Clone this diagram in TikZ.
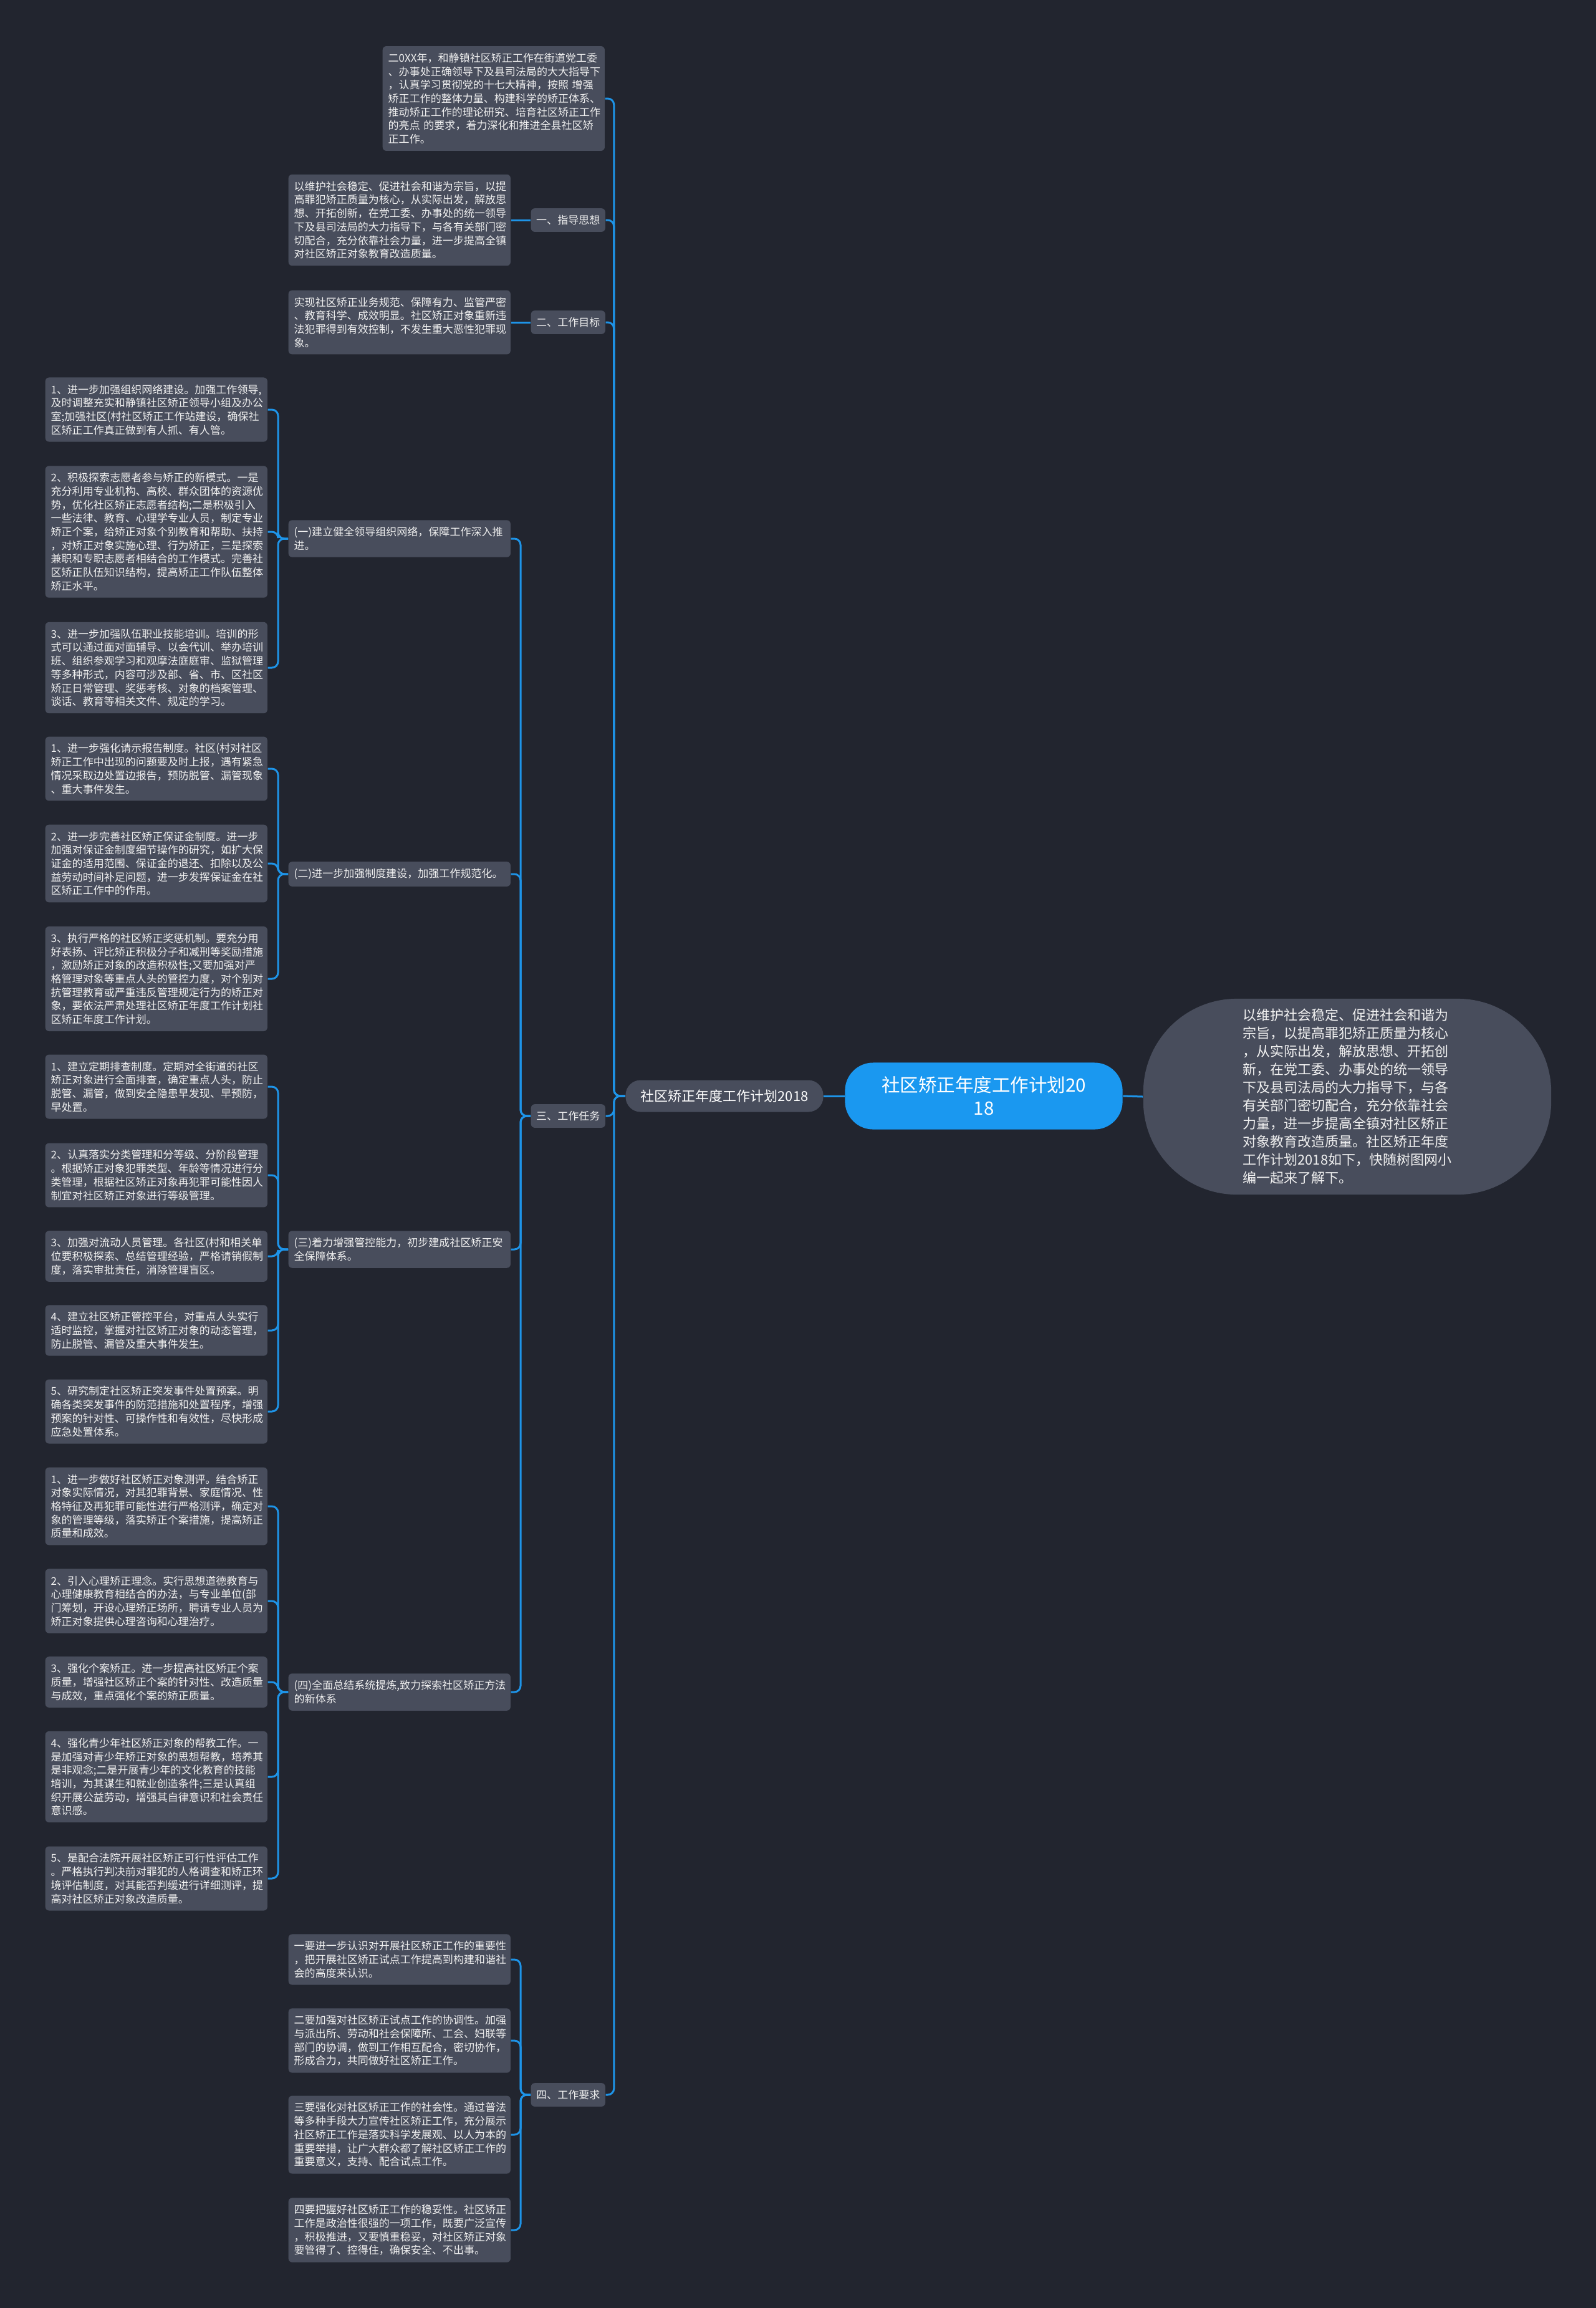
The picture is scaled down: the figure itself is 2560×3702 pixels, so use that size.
\documentclass[tikz,border=0pt]{standalone}
\usepackage{fontspec}
\setmainfont{Noto Sans CJK SC}
\usepackage{xcolor}

\definecolor{bgcol}{RGB}{34,37,47}
\definecolor{boxcol}{RGB}{72,77,92}
\definecolor{linkcol}{RGB}{30,148,232}
\definecolor{titlecol}{RGB}{26,152,240}
\definecolor{txtcol}{RGB}{240,240,240}

\begin{document}
\begin{tikzpicture}[x=0.01cm, y=-0.01cm,
  item/.style={rectangle, rounded corners=0.06cm, fill=boxcol, text=txtcol,
               text width=3.38cm, align=left, inner xsep=0.09cm, inner ysep=0.11cm,
               anchor=west, font=\fontsize{4.84pt}{6.17pt}\selectfont},
  head/.style={rectangle, rounded corners=0.06cm, fill=boxcol, text=txtcol,
               inner xsep=0.085cm, inner ysep=0.11cm, anchor=west,
               font=\fontsize{4.84pt}{6.17pt}\selectfont},
  plan/.style={rectangle, rounded corners=0.24cm, fill=boxcol, text=white,
               inner xsep=0.24cm, minimum height=0.51cm,
               font=\fontsize{6.26pt}{8.25pt}\selectfont},
  title/.style={rectangle, rounded corners=0.45cm, fill=titlecol, text=white,
                minimum width=4.45cm, minimum height=1.07cm, align=center,
                font=\fontsize{8.39pt}{10.53pt}\selectfont},
  summary/.style={rectangle, rounded corners=1.5cm, fill=boxcol, text=txtcol,
                  minimum width=6.54cm, minimum height=3.14cm, align=left,
                  font=\fontsize{6.26pt}{8.25pt}\selectfont},
  link/.style={draw=linkcol, line width=0.03cm, rounded corners=0.1cm},
]
  % background and page size
  \fill[bgcol] (0,0) rectangle (2560,3702);

  % centre: title, root and summary
  \node[title] (title) at (1578,1758) {社区矫正年度工作计划20\\18};
  \node[plan] (root) at (1162,1758) {社区矫正年度工作计划2018};
  \node[summary] (sum) at (2161,1759)
       {以维护社会稳定、促进社会和谐为\\
        宗旨，以提高罪犯矫正质量为核心\\
        ，从实际出发，解放思想、开拓创\\
        新，在党工委、办事处的统一领导\\
        下及县司法局的大力指导下，与各\\
        有关部门密切配合，充分依靠社会\\
        力量，进一步提高全镇对社区矫正\\
        对象教育改造质量。社区矫正年度\\
        工作计划2018如下，快随树图网小\\
        编一起来了解下。};
  \draw[link] (title.west) -- (root.east);
  \draw[link] (title.east) -- (sum.west);

  % first level
  \node[item] (intro) at (613,158)
       {二0XX年，和静镇社区矫正工作在街道党工委\\
        、办事处正确领导下及县司法局的大大指导下\\
        ，认真学习贯彻党的十七大精神，按照 增强\\
        矫正工作的整体力量、构建科学的矫正体系、\\
        推动矫正工作的理论研究、培育社区矫正工作\\
        的亮点 的要求，着力深化和推进全县社区矫\\
        正工作。};
  \node[head] (h1) at (851,353) {一、指导思想};
  \node[head] (h2) at (851,517) {二、工作目标};
  \node[head] (h3) at (851,1790) {三、工作任务};
  \node[head] (h4) at (851,3360) {四、工作要求};

  \draw[link] (root.west) -- ++(-18,0) |- (intro.east);
  \draw[link] (root.west) -- ++(-18,0) |- (h1.east);
  \draw[link] (root.west) -- ++(-18,0) |- (h2.east);
  \draw[link] (root.west) -- ++(-18,0) |- (h3.east);
  \draw[link] (root.west) -- ++(-18,0) |- (h4.east);

  % 一、指导思想 / 二、工作目标
  \node[item] (guide) at (462,353)
       {以维护社会稳定、促进社会和谐为宗旨，以提\\
        高罪犯矫正质量为核心，从实际出发，解放思\\
        想、开拓创新，在党工委、办事处的统一领导\\
        下及县司法局的大力指导下，与各有关部门密\\
        切配合，充分依靠社会力量，进一步提高全镇\\
        对社区矫正对象教育改造质量。};
  \node[item] (goal) at (462,517)
       {实现社区矫正业务规范、保障有力、监管严密\\
        、教育科学、成效明显。社区矫正对象重新违\\
        法犯罪得到有效控制，不发生重大恶性犯罪现\\
        象。};
  \draw[link] (h1.west) -- (guide.east);
  \draw[link] (h2.west) -- (goal.east);

  % 三、工作任务: four sub-topics
  \node[item] (t1) at (462,864)
       {(一)建立健全领导组织网络，保障工作深入推\\
        进。};
  \node[item] (t2) at (462,1402)
       {(二)进一步加强制度建设，加强工作规范化。};
  \node[item] (t3) at (462,2004)
       {(三)着力增强管控能力，初步建成社区矫正安\\
        全保障体系。};
  \node[item] (t4) at (462,2714)
       {(四)全面总结系统提炼,致力探索社区矫正方法\\
        的新体系};
  \draw[link] (h3.west) -- ++(-16,0) |- (t1.east);
  \draw[link] (h3.west) -- ++(-16,0) |- (t2.east);
  \draw[link] (h3.west) -- ++(-16,0) |- (t3.east);
  \draw[link] (h3.west) -- ++(-16,0) |- (t4.east);

  % (一)
  \node[item] (t1a) at (72,657)
       {1、进一步加强组织网络建设。加强工作领导,\\
        及时调整充实和静镇社区矫正领导小组及办公\\
        室;加强社区(村社区矫正工作站建设，确保社\\
        区矫正工作真正做到有人抓、有人管。};
  \node[item] (t1b) at (72,853)
       {2、积极探索志愿者参与矫正的新模式。一是\\
        充分利用专业机构、高校、群众团体的资源优\\
        势，优化社区矫正志愿者结构;二是积极引入\\
        一些法律、教育、心理学专业人员，制定专业\\
        矫正个案，给矫正对象个别教育和帮助、扶持\\
        ，对矫正对象实施心理、行为矫正，三是探索\\
        兼职和专职志愿者相结合的工作模式。完善社\\
        区矫正队伍知识结构，提高矫正工作队伍整体\\
        矫正水平。};
  \node[item] (t1c) at (72,1071)
       {3、进一步加强队伍职业技能培训。培训的形\\
        式可以通过面对面辅导、以会代训、举办培训\\
        班、组织参观学习和观摩法庭庭审、监狱管理\\
        等多种形式，内容可涉及部、省、市、区社区\\
        矫正日常管理、奖惩考核、对象的档案管理、\\
        谈话、教育等相关文件、规定的学习。};
  \draw[link] (t1.west) -- ++(-16,0) |- (t1a.east);
  \draw[link] (t1.west) -- ++(-16,0) |- (t1b.east);
  \draw[link] (t1.west) -- ++(-16,0) |- (t1c.east);

  % (二)
  \node[item] (t2a) at (72,1233)
       {1、进一步强化请示报告制度。社区(村对社区\\
        矫正工作中出现的问题要及时上报，遇有紧急\\
        情况采取边处置边报告，预防脱管、漏管现象\\
        、重大事件发生。};
  \node[item] (t2b) at (72,1385)
       {2、进一步完善社区矫正保证金制度。进一步\\
        加强对保证金制度细节操作的研究，如扩大保\\
        证金的适用范围、保证金的退还、扣除以及公\\
        益劳动时间补足问题，进一步发挥保证金在社\\
        区矫正工作中的作用。};
  \node[item] (t2c) at (72,1570)
       {3、执行严格的社区矫正奖惩机制。要充分用\\
        好表扬、评比矫正积极分子和减刑等奖励措施\\
        ，激励矫正对象的改造积极性;又要加强对严\\
        格管理对象等重点人头的管控力度，对个别对\\
        抗管理教育或严重违反管理规定行为的矫正对\\
        象，要依法严肃处理社区矫正年度工作计划社\\
        区矫正年度工作计划。};
  \draw[link] (t2.west) -- ++(-16,0) |- (t2a.east);
  \draw[link] (t2.west) -- ++(-16,0) |- (t2b.east);
  \draw[link] (t2.west) -- ++(-16,0) |- (t2c.east);

  % (三)
  \node[item] (t3a) at (72,1743)
       {1、建立定期排查制度。定期对全街道的社区\\
        矫正对象进行全面排查，确定重点人头，防止\\
        脱管、漏管，做到安全隐患早发现、早预防，\\
        早处置。};
  \node[item] (t3b) at (72,1885)
       {2、认真落实分类管理和分等级、分阶段管理\\
        。根据矫正对象犯罪类型、年龄等情况进行分\\
        类管理，根据社区矫正对象再犯罪可能性因人\\
        制宜对社区矫正对象进行等级管理。};
  \node[item] (t3c) at (72,2015)
       {3、加强对流动人员管理。各社区(村和相关单\\
        位要积极探索、总结管理经验，严格请销假制\\
        度，落实审批责任，消除管理盲区。};
  \node[item] (t3d) at (72,2134)
       {4、建立社区矫正管控平台，对重点人头实行\\
        适时监控，掌握对社区矫正对象的动态管理，\\
        防止脱管、漏管及重大事件发生。};
  \node[item] (t3e) at (72,2264)
       {5、研究制定社区矫正突发事件处置预案。明\\
        确各类突发事件的防范措施和处置程序，增强\\
        预案的针对性、可操作性和有效性，尽快形成\\
        应急处置体系。};
  \draw[link] (t3.west) -- ++(-16,0) |- (t3a.east);
  \draw[link] (t3.west) -- ++(-16,0) |- (t3b.east);
  \draw[link] (t3.west) -- ++(-16,0) |- (t3c.east);
  \draw[link] (t3.west) -- ++(-16,0) |- (t3d.east);
  \draw[link] (t3.west) -- ++(-16,0) |- (t3e.east);

  % (四)
  \node[item] (t4a) at (72,2416)
       {1、进一步做好社区矫正对象测评。结合矫正\\
        对象实际情况，对其犯罪背景、家庭情况、性\\
        格特征及再犯罪可能性进行严格测评，确定对\\
        象的管理等级，落实矫正个案措施，提高矫正\\
        质量和成效。};
  \node[item] (t4b) at (72,2568)
       {2、引入心理矫正理念。实行思想道德教育与\\
        心理健康教育相结合的办法，与专业单位(部\\
        门筹划，开设心理矫正场所，聘请专业人员为\\
        矫正对象提供心理咨询和心理治疗。};
  \node[item] (t4c) at (72,2698)
       {3、强化个案矫正。进一步提高社区矫正个案\\
        质量，增强社区矫正个案的针对性、改造质量\\
        与成效，重点强化个案的矫正质量。};
  \node[item] (t4d) at (72,2850)
       {4、强化青少年社区矫正对象的帮教工作。一\\
        是加强对青少年矫正对象的思想帮教，培养其\\
        是非观念;二是开展青少年的文化教育的技能\\
        培训，为其谋生和就业创造条件;三是认真组\\
        织开展公益劳动，增强其自律意识和社会责任\\
        意识感。};
  \node[item] (t4e) at (72,3013)
       {5、是配合法院开展社区矫正可行性评估工作\\
        。严格执行判决前对罪犯的人格调查和矫正环\\
        境评估制度，对其能否判缓进行详细测评，提\\
        高对社区矫正对象改造质量。};
  \draw[link] (t4.west) -- ++(-16,0) |- (t4a.east);
  \draw[link] (t4.west) -- ++(-16,0) |- (t4b.east);
  \draw[link] (t4.west) -- ++(-16,0) |- (t4c.east);
  \draw[link] (t4.west) -- ++(-16,0) |- (t4d.east);
  \draw[link] (t4.west) -- ++(-16,0) |- (t4e.east);

  % 四、工作要求
  \node[item] (r1) at (462,3143)
       {一要进一步认识对开展社区矫正工作的重要性\\
        ，把开展社区矫正试点工作提高到构建和谐社\\
        会的高度来认识。};
  \node[item] (r2) at (462,3273)
       {二要加强对社区矫正试点工作的协调性。加强\\
        与派出所、劳动和社会保障所、工会、妇联等\\
        部门的协调，做到工作相互配合，密切协作，\\
        形成合力，共同做好社区矫正工作。};
  \node[item] (r3) at (462,3424)
       {三要强化对社区矫正工作的社会性。通过普法\\
        等多种手段大力宣传社区矫正工作，充分展示\\
        社区矫正工作是落实科学发展观、以人为本的\\
        重要举措，让广大群众都了解社区矫正工作的\\
        重要意义，支持、配合试点工作。};
  \node[item] (r4) at (462,3577)
       {四要把握好社区矫正工作的稳妥性。社区矫正\\
        工作是政治性很强的一项工作，既要广泛宣传\\
        ，积极推进，又要慎重稳妥，对社区矫正对象\\
        要管得了、控得住，确保安全、不出事。};
  \draw[link] (h4.west) -- ++(-16,0) |- (r1.east);
  \draw[link] (h4.west) -- ++(-16,0) |- (r2.east);
  \draw[link] (h4.west) -- ++(-16,0) |- (r3.east);
  \draw[link] (h4.west) -- ++(-16,0) |- (r4.east);

\end{tikzpicture}
\end{document}
